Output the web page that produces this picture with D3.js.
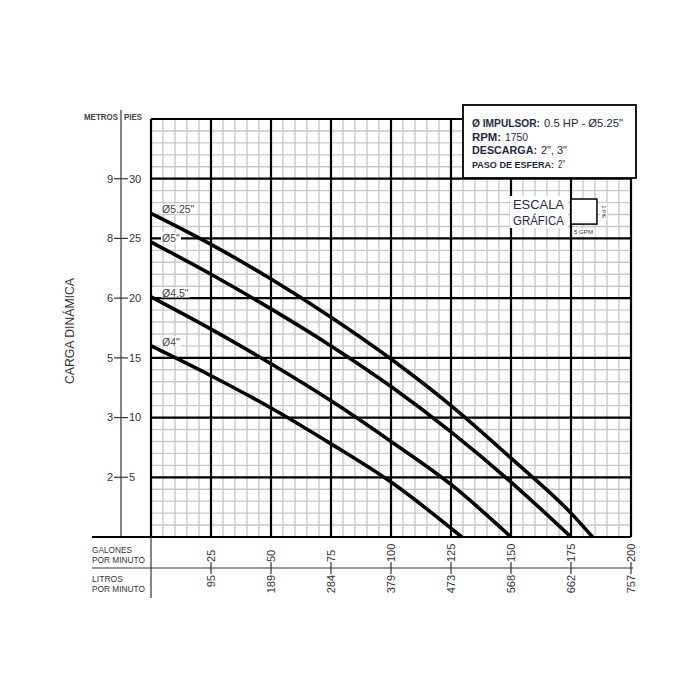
<!DOCTYPE html>
<html>
<head>
<meta charset="utf-8">
<script src="https://cdn.jsdelivr.net/npm/d3@7"></script>
<style>
body{margin:0;background:#fff}
text{font-family:"Liberation Sans Narrow","Liberation Sans",Arial,sans-serif;fill:#333}
</style>
</head>
<body>
<svg id="chart" width="700" height="700"></svg>
<script>
// curves: flow in GPM, head in feet
var gpm525=[0,25,50,75,100,125,150,175,184]
var ft525=[27.1,24.5,21.6,18.4,14.9,11.0,6.6,2.0,0]
var gpm5=[0,25,50,75,100,125,150,175]
var ft5=[24.7,22.0,19.1,16.0,12.6,8.8,4.6,0]
var gpm45=[0,25,50,75,100,125,150]
var ft45=[20.1,17.4,14.5,11.4,8.0,4.4,0]
var gpm4=[0,25,50,75,100,129.5]
var ft4=[16.0,13.5,10.8,7.8,4.6,0]
var curveNames=['Ø5.25"','Ø5"','Ø4.5"','Ø4"']

// axis ticks
var gpmTicks=[25,50,75,100,125,150,175,200]
var lpmTicks=['95','189','284','379','473','568','662','757']
var ftTicks=[5,10,15,20,25,30]
var mTicks=['2','3','5','6','8','9']

var infoLabels=['Ø IMPULSOR:','RPM:','DESCARGA:','PASO DE ESFERA:']
var infoValues=['0.5 HP - Ø5.25"','1750','2", 3"','2"']
var labelW=[68,29,65,82]
var valueW=[79,23,26,7]
var labelSize=[10.5,10.5,10.5,9.6]

var svg=d3.select('#chart')
var x=d3.scaleLinear().domain([0,200]).range([151,631])
var y=d3.scaleLinear().domain([0,35]).range([537,119])

// squeeze a text to a width (no narrow font installed)
function fit(t,w){ return t.attr('textLength',w).attr('lengthAdjust','spacingAndGlyphs') }

// minor grid
var grid=svg.append('g')
grid.selectAll('.vx').data(d3.range(0,201,5).filter(d=>d%25!=0)).enter().append('line')
    .attr('x1',d=>x(d)).attr('x2',d=>x(d)).attr('y1',y(0)).attr('y2',y(35))
    .attr('stroke','#c9c9c9').attr('stroke-width',1.4)
grid.selectAll('.hy').data(d3.range(0,36,1).filter(d=>d%5!=0)).enter().append('line')
    .attr('y1',d=>y(d)).attr('y2',d=>y(d)).attr('x1',x(0)).attr('x2',x(200))
    .attr('stroke','#c9c9c9').attr('stroke-width',1.4)
// major grid
grid.selectAll('.mvx').data(d3.range(0,201,25)).enter().append('line')
    .attr('x1',d=>x(d)).attr('x2',d=>x(d)).attr('y1',y(0)).attr('y2',y(35))
    .attr('stroke','#000').attr('stroke-width',2.2)
grid.selectAll('.mhy').data(d3.range(5,36,5)).enter().append('line')
    .attr('y1',d=>y(d)).attr('y2',d=>y(d)).attr('x1',x(0)).attr('x2',x(200))
    .attr('stroke','#000').attr('stroke-width',2.2)

// left scale (metros | pies)
var ax=121
svg.append('line').attr('x1',ax).attr('x2',ax).attr('y1',110).attr('y2',y(0)).attr('stroke','#333').attr('stroke-width',1.2)
fit(svg.append('text').attr('x',ax-37).attr('y',119.5).attr('font-size',8.5).attr('font-weight','bold').style('fill','#444').text('METROS'),34)
fit(svg.append('text').attr('x',ax+3).attr('y',119.5).attr('font-size',8.5).attr('font-weight','bold').style('fill','#444').text('PIES'),18)
ftTicks.forEach(function(f,i){
    svg.append('line').attr('x1',ax-7).attr('x2',ax+7).attr('y1',y(f)).attr('y2',y(f)).attr('stroke','#333').attr('stroke-width',1.2)
    svg.append('text').attr('x',ax-8).attr('y',y(f)+3.8).attr('text-anchor','end').attr('font-size',11).text(mTicks[i])
    svg.append('text').attr('x',ax+8).attr('y',y(f)+3.8).attr('font-size',11).text(f)
})
fit(svg.append('text').attr('transform','translate(74,384) rotate(-90)')
    .attr('font-size',12).text('CARGA DINÁMICA'),106)

// bottom scales
svg.append('line').attr('x1',92).attr('x2',x(200)).attr('y1',y(0)).attr('y2',y(0)).attr('stroke','#000').attr('stroke-width',2)
svg.append('line').attr('x1',92).attr('x2',x(200)+2).attr('y1',568).attr('y2',568).attr('stroke','#333').attr('stroke-width',1.2)
svg.append('line').attr('x1',x(0)).attr('x2',x(0)).attr('y1',y(0)).attr('y2',598).attr('stroke','#333').attr('stroke-width',1.2)
fit(svg.append('text').attr('x',92).attr('y',553).attr('font-size',9.5).text('GALONES'),40)
fit(svg.append('text').attr('x',92).attr('y',563).attr('font-size',9.5).text('POR MINUTO'),53)
fit(svg.append('text').attr('x',92).attr('y',582).attr('font-size',9.5).text('LITROS'),31)
fit(svg.append('text').attr('x',92).attr('y',592).attr('font-size',9.5).text('POR MINUTO'),53)
gpmTicks.forEach(function(g,i){
    var tx=x(g)
    svg.append('line').attr('x1',tx).attr('x2',tx).attr('y1',562).attr('y2',574).attr('stroke','#333').attr('stroke-width',1.2)
    svg.append('text').attr('transform','translate('+(tx+3.8)+',562) rotate(-90)').attr('font-size',11).text(g)
    svg.append('text').attr('transform','translate('+(tx+3.8)+',575) rotate(-90)').attr('text-anchor','end').attr('font-size',11).text(lpmTicks[i])
})

// curves
var line=d3.line().x(d=>x(d[0])).y(d=>y(d[1])).curve(d3.curveMonotoneX)
var series=[[gpm525,ft525],[gpm5,ft5],[gpm45,ft45],[gpm4,ft4]]
series.forEach(function(s,i){
    var pts=s[0].map((g,j)=>[g,s[1][j]])
    svg.append('path').attr('d',line(pts)).attr('fill','none').attr('stroke','#000').attr('stroke-width',3.6)
    var ly=y(s[1][0])-4
    var t=svg.append('text').attr('x',x(0)+11).attr('y',ly+3.6).attr('font-size',10.5).style('fill','#444').text(curveNames[i])
    var bb=t.node().getBBox()
    svg.insert('rect','text:last-of-type').attr('x',bb.x-1).attr('y',bb.y+1).attr('width',bb.width+2).attr('height',bb.height-2).attr('fill','#fff')
})

// info box
svg.append('rect').attr('x',463).attr('y',105).attr('width',173).attr('height',73).attr('fill','#fff').attr('stroke','#000').attr('stroke-width',1.8)
infoLabels.forEach(function(l,i){
    var by=127+i*13.6
    fit(svg.append('text').attr('x',472).attr('y',by).attr('font-size',labelSize[i]).attr('font-weight','bold').style('fill','#1e2a44').text(l),labelW[i])
    fit(svg.append('text').attr('x',472+labelW[i]+4).attr('y',by).attr('font-size',10.5).style('fill','#1e2a44').text(infoValues[i]),valueW[i])
})

// escala grafica
svg.append('rect').attr('x',510).attr('y',196).attr('width',58).attr('height',32).attr('fill','#fff')
fit(svg.append('text').attr('x',513).attr('y',208.5).attr('font-size',12.5).style('fill','#1e2a44').text('ESCALA'),51)
fit(svg.append('text').attr('x',513).attr('y',224.5).attr('font-size',12.5).style('fill','#1e2a44').text('GRÁFICA'),51)
svg.append('rect').attr('x',x(175)).attr('y',y(28.3)).attr('width',x(185.8)-x(175)).attr('height',y(26.2)-y(28.3))
    .attr('fill','#fff').attr('stroke','#000').attr('stroke-width',1.5)
svg.append('rect').attr('x',573).attr('y',228).attr('width',22).attr('height',8).attr('fill','#fff')
fit(svg.append('text').attr('x',574).attr('y',234).attr('font-size',6).text('5 GPM'),19)
svg.append('rect').attr('x',600).attr('y',203).attr('width',7).attr('height',17).attr('fill','#fff')
fit(svg.append('text').attr('transform','translate(601.5,205.5) rotate(90)').attr('font-size',6).text('1 PIE'),13)
</script>
</body>
</html>
